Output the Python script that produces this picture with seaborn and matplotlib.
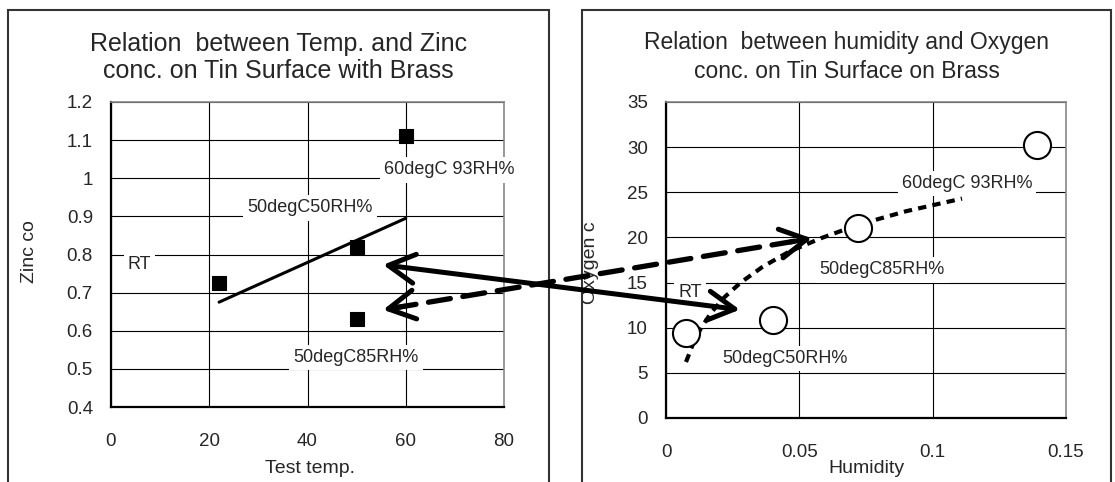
import numpy as np
import pandas as pd
import matplotlib
matplotlib.use("Agg")
import matplotlib.pyplot as plt
from matplotlib.patches import Rectangle, ConnectionPatch
import seaborn as sns

# left chart: zinc vs test temperature
temp = [22, 50, 50, 60]
zinc = [0.725, 0.82, 0.63, 1.11]
trend_temp = [22, 60]
trend_zinc = [0.675, 0.895]

# right chart: oxygen vs humidity
hum = [0.0075, 0.040, 0.072, 0.139]
oxy = [9.4, 10.9, 21.0, 30.2]
curve_hum = [0.0075, 0.010, 0.013, 0.017, 0.022, 0.028, 0.036, 0.046, 0.058, 0.072, 0.090, 0.111]
curve_oxy = [6.2, 8.1, 9.9, 11.7, 13.4, 15.0, 16.7, 18.4, 19.9, 21.4, 22.9, 24.3]

left_xticks = [0, 20, 40, 60, 80]
left_yticks = [0.4, 0.5, 0.6, 0.7, 0.8, 0.9, 1.0, 1.1, 1.2]
left_ylabels = ["0.4", "0.5", "0.6", "0.7", "0.8", "0.9", "1", "1.1", "1.2"]
right_xticks = [0, 0.05, 0.1, 0.15]
right_xlabels = ["0", "0.05", "0.1", "0.15"]
right_yticks = [0, 5, 10, 15, 20, 25, 30, 35]

sns.set_style("white")
plt.rcParams["font.family"] = ["Liberation Sans", "DejaVu Sans"]

W, H = 1115, 482
fig = plt.figure(figsize=(W / 100, H / 100), dpi=100)

# the two chart frames
for x0, x1 in [(8, 549), (582, 1111)]:
    fig.add_artist(Rectangle((x0 / W, -0.05), (x1 - x0) / W, 1 - 10 / H + 0.05,
                             transform=fig.transFigure, fill=False, lw=1.5, ec="#333333"))

ax1 = fig.add_axes([111 / W, 1 - 407 / H, 393 / W, 305 / H])
ax2 = fig.add_axes([666 / W, 1 - 418 / H, 400 / W, 316 / H])


def style_axes(ax):
    ax.set_axisbelow(True)
    ax.grid(True, color="black", lw=0.8)
    for s in ["left", "bottom"]:
        ax.spines[s].set_color("black")
        ax.spines[s].set_linewidth(1.6)
    for s in ["top", "right"]:
        ax.spines[s].set_color("#888888")
        ax.spines[s].set_linewidth(1.2)
    ax.tick_params(length=0, labelsize=13.5)
    ax.tick_params(axis="x", pad=19)
    ax.tick_params(axis="y", pad=13)


box = dict(facecolor="white", edgecolor="none", pad=3)

# ---- left
df1 = pd.DataFrame({"temp": temp, "zinc": zinc})
sns.lineplot(x=trend_temp, y=trend_zinc, ax=ax1, color="black", lw=2.2, zorder=3)
sns.scatterplot(data=df1, x="temp", y="zinc", ax=ax1, marker="s", s=95, color="black",
                edgecolor="black", zorder=4)
ax1.set_xlim(0, 80)
ax1.set_ylim(0.4, 1.2)
ax1.set_xticks(left_xticks)
ax1.set_yticks(left_yticks)
ax1.set_yticklabels(left_ylabels)
style_axes(ax1)
ax1.set_xlabel("Test temp.", fontsize=14)
ax1.set_ylabel("Zinc co", fontsize=14)
ax1.xaxis.set_label_coords(0.506, -0.175)
ax1.yaxis.set_label_coords(-0.185, 0.51)
ax1.text(0.427, 1.147, "Relation  between Temp. and Zinc\nconc. on Tin Surface with Brass",
         transform=ax1.transAxes, ha="center", va="center", fontsize=18, linespacing=1.15)
for label, x, y in [("60degC 93RH%", 68.8, 1.022), ("50degC50RH%", 40.5, 0.922),
                    ("RT", 5.8, 0.773), ("50degC85RH%", 49.9, 0.529)]:
    ax1.text(x, y, label, ha="center", va="center", fontsize=13, bbox=box,
             zorder=3, clip_on=False)

# ---- right
df2 = pd.DataFrame({"hum": hum, "oxy": oxy})
sns.lineplot(x=curve_hum, y=curve_oxy, ax=ax2, color="black", lw=3.0,
             linestyle=(0, (2.0, 1.5)), zorder=3)
sns.scatterplot(data=df2, x="hum", y="oxy", ax=ax2, marker="o", s=380, color="white",
                edgecolor="black", linewidth=1.5, zorder=4)
ax2.set_xlim(0, 0.15)
ax2.set_ylim(0, 35)
ax2.set_xticks(right_xticks)
ax2.set_xticklabels(right_xlabels)
ax2.set_yticks(right_yticks)
style_axes(ax2)
ax2.set_xlabel("Humidity", fontsize=14)
ax2.set_ylabel("Oxygen c", fontsize=14)
ax2.xaxis.set_label_coords(0.5, -0.133)
ax2.yaxis.set_label_coords(-0.168, 0.49)
ax2.text(0.4525, 1.142, "Relation  between humidity and Oxygen\nconc. on Tin Surface on Brass",
         transform=ax2.transAxes, ha="center", va="center", fontsize=16.5, linespacing=1.3)
for label, x, y in [("60degC 93RH%", 0.1129, 26.0), ("50degC85RH%", 0.081, 16.4),
                    ("50degC50RH%", 0.0446, 6.6), ("RT", 0.009, 13.95)]:
    ax2.text(x, y, label, ha="center", va="center", fontsize=13, bbox=box,
             zorder=3, clip_on=False)

# ---- arrows linking the two charts
head = "->,head_length=1.0,head_width=0.55"
solid = ConnectionPatch(xyA=(55.4, 0.773), coordsA=ax1.transData,
                        xyB=(0.0277, 12.0), coordsB=ax2.transData,
                        arrowstyle="<->,head_length=1.0,head_width=0.55", mutation_scale=19,
                        lw=3.6, color="black", zorder=10, shrinkA=0, shrinkB=0)
fig.add_artist(solid)

dashA, dashB = (55.4, 0.655), (0.0547, 19.9)
dashed = ConnectionPatch(xyA=dashA, coordsA=ax1.transData, xyB=dashB, coordsB=ax2.transData,
                         arrowstyle="-", lw=3.8, color="black", linestyle=(0, (4.2, 2.4)),
                         zorder=10, shrinkA=8, shrinkB=8)
fig.add_artist(dashed)

pA = ax1.transData.transform(dashA)
pB = ax2.transData.transform(dashB)
u = (pB - pA) / np.hypot(*(pB - pA))
for ax, tip, base in [(ax1, dashA, pA + u * 22), (ax2, dashB, pB - u * 22)]:
    ax.annotate("", xy=tip, xytext=ax.transData.inverted().transform(base),
                arrowprops=dict(arrowstyle=head, mutation_scale=19, lw=3.6, color="black",
                                shrinkA=0, shrinkB=0),
                annotation_clip=False, zorder=10)

fig.savefig("out.png", dpi=100)
